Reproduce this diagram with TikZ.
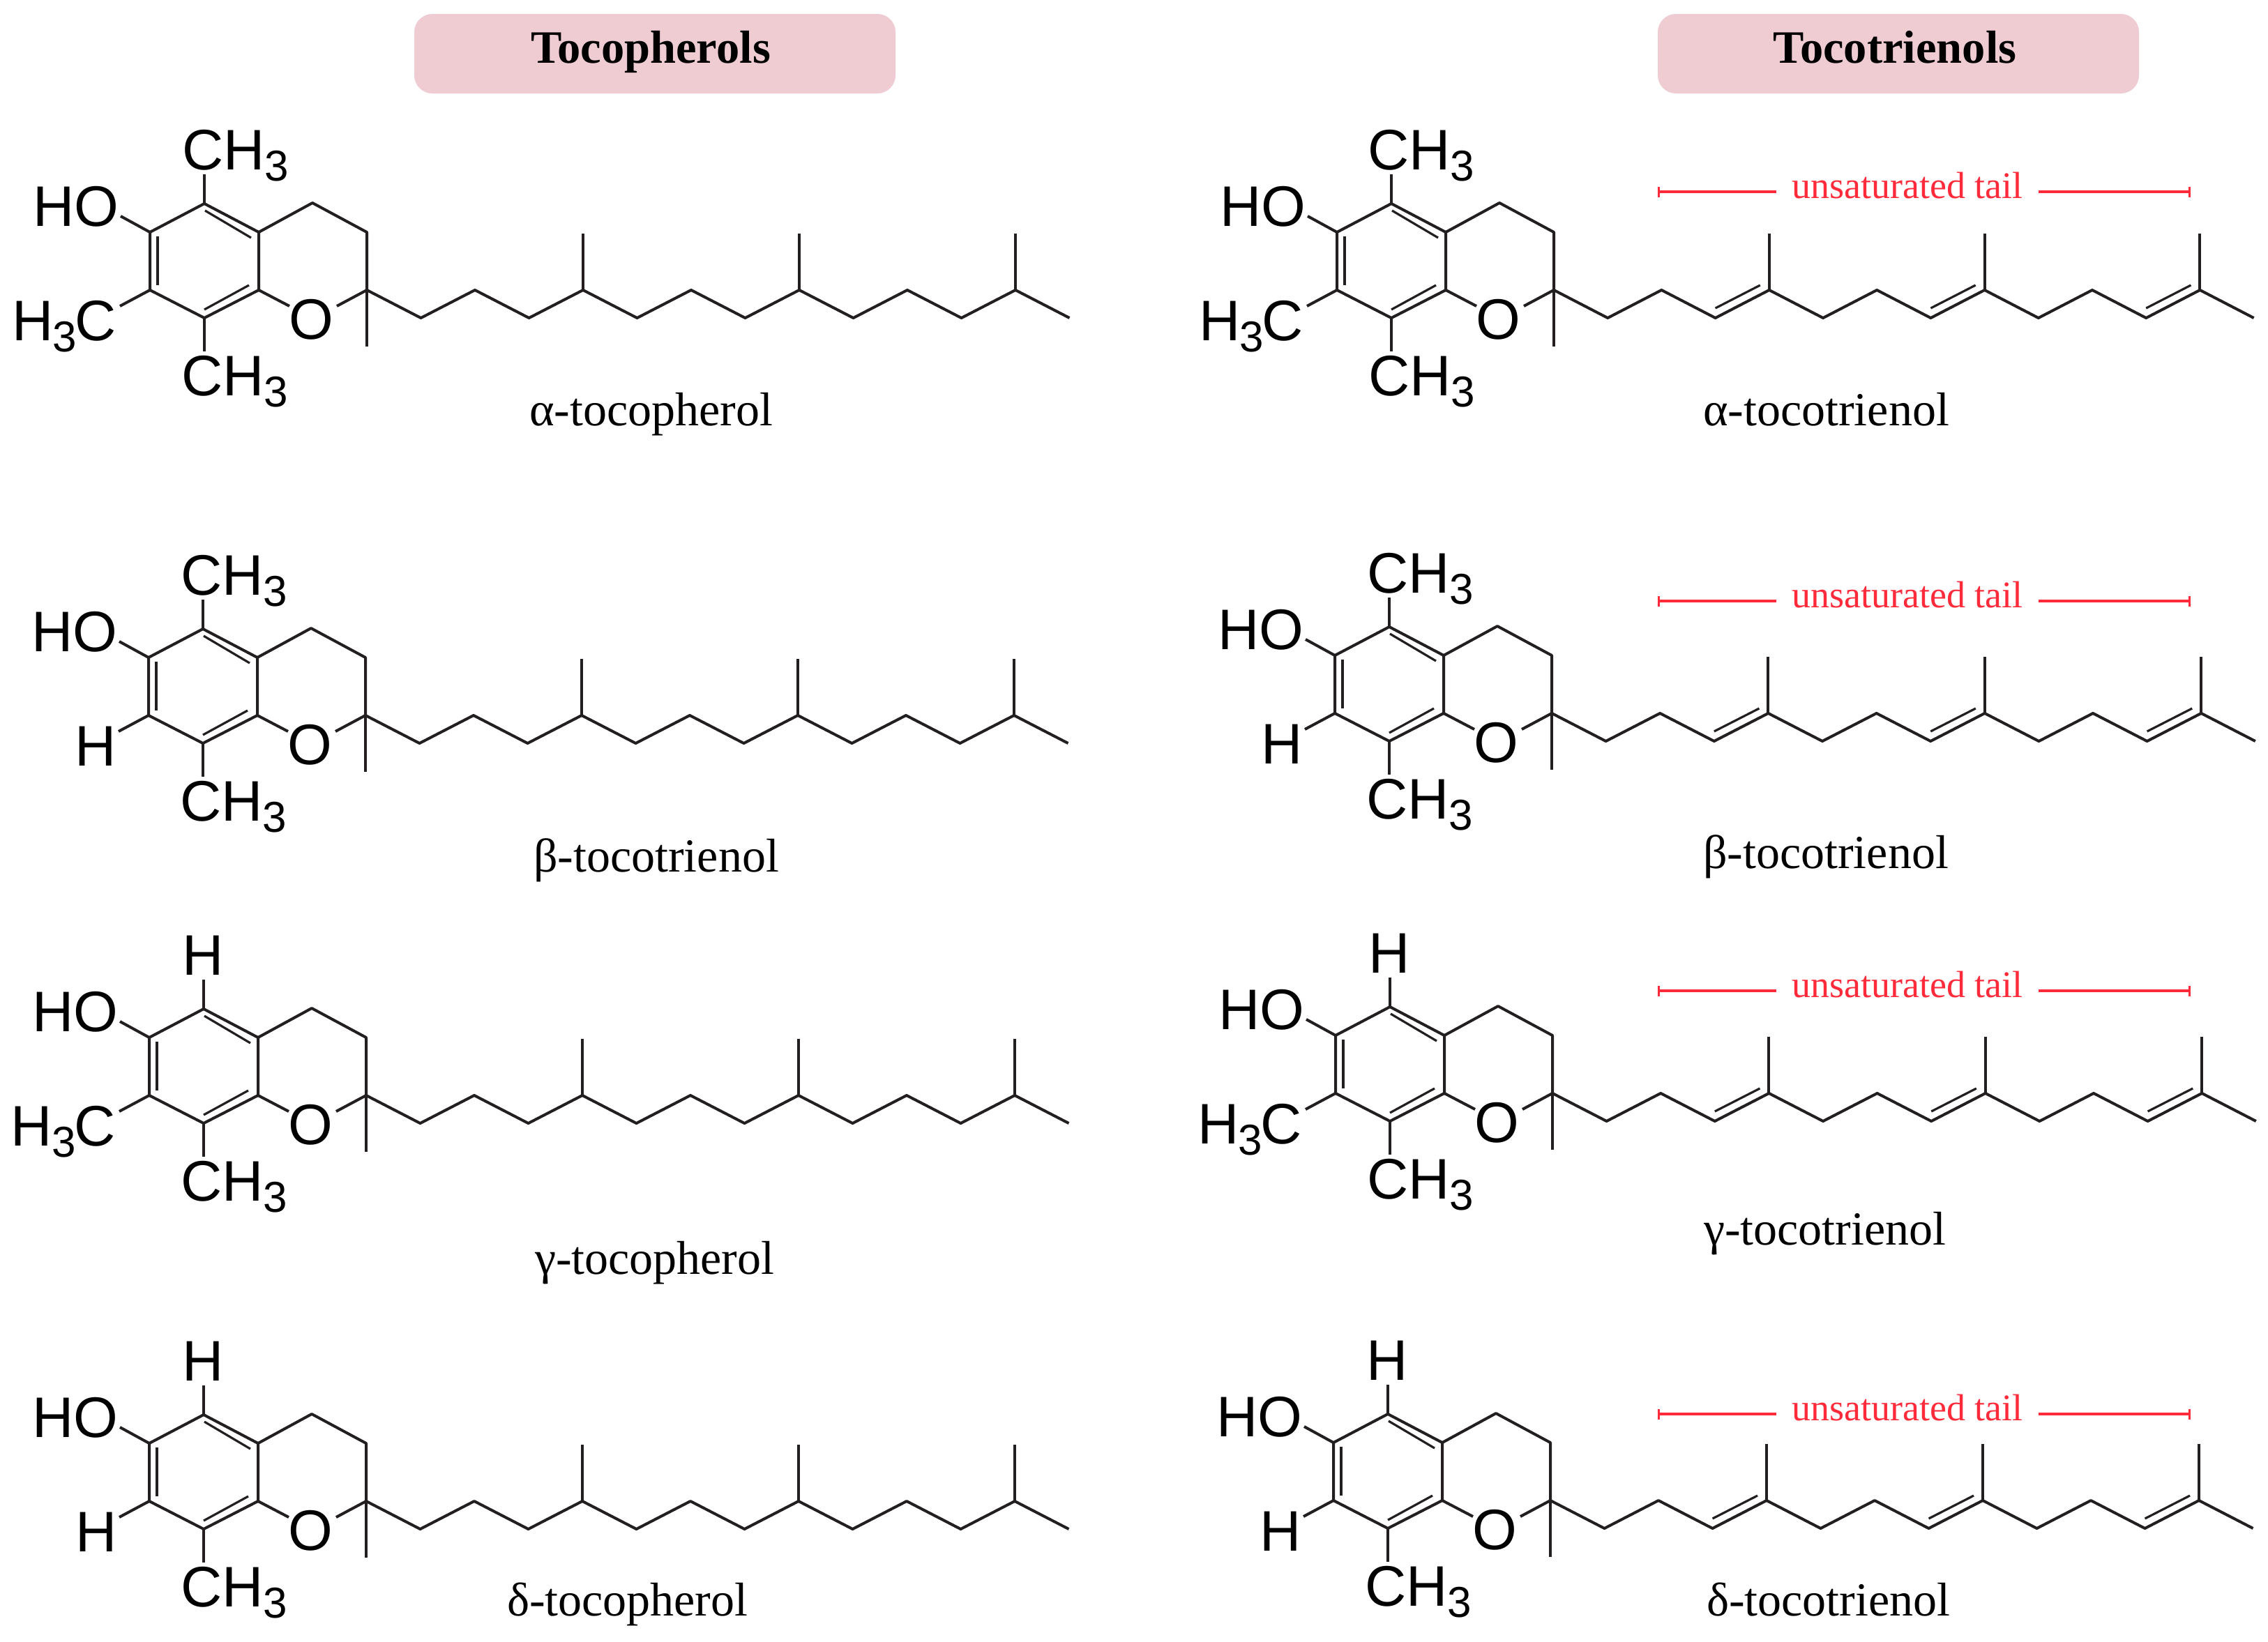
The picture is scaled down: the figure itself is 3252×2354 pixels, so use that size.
\documentclass[tikz,border=0pt]{standalone}
\usepackage{fontspec}
\setmainfont{Liberation Serif}
\newfontfamily\atomfont{Liberation Sans}
\usetikzlibrary{arrows.meta}
\definecolor{ink}{HTML}{231F20}
\definecolor{hdrfill}{HTML}{EFCBD2}
\definecolor{tailred}{HTML}{FF2A3A}
\newcommand\subthree{\raisebox{-16pt}{\fontsize{62}{62}\selectfont 3}}
\newcommand\methyl{CH\subthree}
\newcommand\methylrev{H\kern-1pt\subthree\kern-2pt C}
\tikzset{
  bond/.style={draw=ink,line width=4pt,line join=round},
  innerbond/.style={draw=ink,line width=3.2pt},
  atomlabel/.style={inner sep=0pt,outer sep=0pt,text=black,font=\atomfont\fontsize{82}{82}\selectfont},
  caption/.style={inner sep=0pt,outer sep=0pt,anchor=base west,font=\fontsize{68}{68}\selectfont},
  hdrbox/.style={fill=hdrfill,rounded corners=26pt,minimum width=690pt,minimum height=114pt,inner sep=0pt},
  hdrtext/.style={inner sep=0pt,anchor=base,font=\bfseries\fontsize{66.5}{66.5}\selectfont},
  redline/.style={draw=tailred,line width=3.2pt},
  redtext/.style={inner sep=0pt,anchor=base west,text=tailred,font=\fontsize{54}{54}\selectfont}
}
% #1 prefix, #2 x, #3 y of the ring atom C7, #4 top atom text, #5 its x offset, #6 x offset of lower-left text (\lowtext), #7 tail step, #8 T for an unsaturated tail
\newcommand\chroman[8]{%
\begin{scope}[shift={(#2,#3)}]
  \coordinate (#1c7) at (0,0);
  \coordinate (#1c6) at (0,-83);
  \coordinate (#1c5) at (78,-124);
  \coordinate (#1ca) at (156,-83);
  \coordinate (#1cb) at (156,0);
  \coordinate (#1c8) at (78,40);
  \coordinate (#1c4) at (233,-125);
  \coordinate (#1c3) at (311,-83);
  \coordinate (#1c2) at (311,0);
  \foreach \i in {1,...,13}{\coordinate (#1t\i) at ({311+\i*#7},{mod(\i,2)*40});}
  % ring
  \draw[bond] (#1c5) -- (#1c6) -- (#1c7) -- (#1c8) -- (#1cb) -- (#1ca) -- cycle;
  \draw[bond] (#1ca) -- (#1c4) -- (#1c3) -- (#1c2);
  % inner lines of the double bonds
  \draw[innerbond] ([shift={(1,10)}]#1c5) -- ([shift={(-11,8)}]#1ca);
  \draw[innerbond] ([shift={(11,6)}]#1c6) -- ([shift={(11,-7)}]#1c7);
  \draw[innerbond] ([shift={(0,-12)}]#1c8) -- ([shift={(-14,-7)}]#1cb);
  % atoms
  \node[atomlabel,anchor=base west] (#1top) at (#5,-173) {#4};
  \node[atomlabel,anchor=base west] (#1oh) at (-168,-92) {HO};
  \node[atomlabel,anchor=base west] (#1low) at (#6,72) {\lowtext};
  \node[atomlabel,anchor=base] (#1o) at (231,70) {O};
  \node[atomlabel,anchor=base west] (#1bot) at (45,151) {\methyl};
  % free ends next to the atoms
  \coordinate (#1e5) at (78,-166);
  \coordinate (#1e6) at (-42,-106);
  \coordinate (#1e7) at (-43,23);
  \coordinate (#1e8) at (78,88);
  \coordinate (#1oa) at (200,23);
  \coordinate (#1ob) at (268,23);
  \coordinate (#1em) at (311,81);
  \draw[bond] (#1c5) -- (#1e5);
  \draw[bond] (#1c6) -- (#1e6);
  \draw[bond] (#1c7) -- (#1e7);
  \draw[bond] (#1c8) -- (#1e8);
  \draw[bond] (#1cb) -- (#1oa);
  \draw[bond] (#1c2) -- (#1ob);
  \draw[bond] (#1c2) -- (#1em);
  % tail
  \draw[bond] (#1c2) -- (#1t1) -- (#1t2) -- (#1t3) -- (#1t4) -- (#1t5) -- (#1t6) -- (#1t7) -- (#1t8) -- (#1t9) -- (#1t10) -- (#1t11) -- (#1t12) -- (#1t13);
  \foreach \k in {4,8,12}{
    \coordinate (#1m\k) at ([shift={(0,-81)}]#1t\k);
    \draw[bond] (#1t\k) -- (#1m\k);
  }
  \ifx#8T
    \foreach \a/\b in {3/4,7/8,11/12}{
      \draw[innerbond] ([shift={(0,-14)}]#1t\a) -- ([shift={(-13,-7)}]#1t\b);
    }
  \fi
\end{scope}}
\newcommand\redtail[2]{%
  \coordinate (#1a) at (2377,#2);
  \coordinate (#1b) at (2547,#2);
  \coordinate (#1c) at (2923,#2);
  \coordinate (#1d) at (3141,#2);
  \draw[redline,{Bar[width=15pt,line width=3.2pt]}-] (#1a) -- (#1b);
  \draw[redline,-{Bar[width=15pt,line width=3.2pt]}] (#1c) -- (#1d);
  \node[redtext] (#1t) at (2569,#2+9) {unsaturated tail};}
\begin{document}
\begin{tikzpicture}[x=1pt,y=-1pt]
\useasboundingbox (0,0) rectangle (3252,2354);
\fill[white] (0,0) rectangle (3252,2354);
\node[hdrbox] (hl) at (939,77) {};
\node[hdrbox] (hr) at (2722,77) {};
\node[hdrtext] (hlt) at (933,90) {Tocopherols};
\node[hdrtext] (hrt) at (2717,90) {Tocotrienols};

\def\lowtext{\methylrev}
\chroman{la}{215}{416}{\methyl}{46}{-198}{77.5}{F}
\def\lowtext{H}
\chroman{lb}{213}{1026}{\methyl}{46}{-106}{77.5}{F}
\def\lowtext{\methylrev}
\chroman{lg}{214}{1571}{H}{47}{-198}{77.5}{F}
\def\lowtext{H}
\chroman{ld}{214}{2153}{H}{47}{-106}{77.5}{F}

\def\lowtext{\methylrev}
\chroman{ra}{1917}{416}{\methyl}{44}{-198}{77.2}{T}
\def\lowtext{H}
\chroman{rb}{1914}{1023}{\methyl}{46}{-106}{77.6}{T}
\def\lowtext{\methylrev}
\chroman{rg}{1915}{1568}{H}{47}{-198}{77.6}{T}
\def\lowtext{H}
\chroman{rd}{1912}{2152}{H}{47}{-106}{77.5}{T}

\redtail{ua}{275}
\redtail{ub}{862}
\redtail{ug}{1421}
\redtail{ud}{2028}

\node[caption] (c1) at (759,610) {α-tocopherol};
\node[caption] (c2) at (765,1250) {β-tocotrienol};
\node[caption] (c3) at (767,1827) {γ-tocopherol};
\node[caption] (c4) at (727,2317) {δ-tocopherol};
\node[caption] (c5) at (2442,610) {α-tocotrienol};
\node[caption] (c6) at (2442,1245) {β-tocotrienol};
\node[caption] (c7) at (2443,1785) {γ-tocotrienol};
\node[caption] (c8) at (2447,2317) {δ-tocotrienol};
\end{tikzpicture}
\end{document}
